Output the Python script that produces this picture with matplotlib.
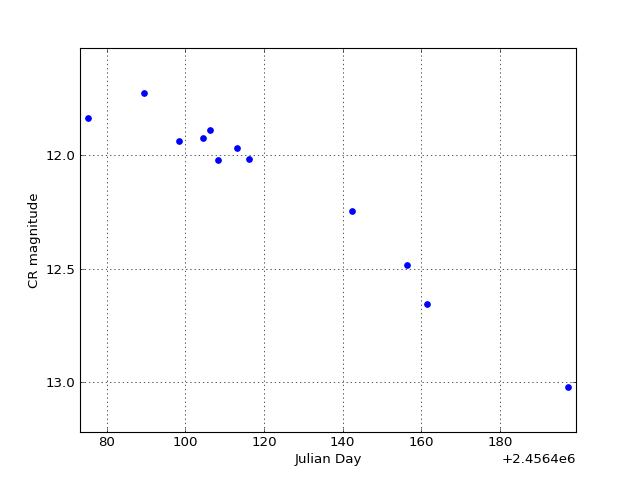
import numpy as np
import matplotlib
matplotlib.use('Agg')
import matplotlib.pyplot as plt
from matplotlib.ticker import ScalarFormatter

plt.rcParams['lines.scale_dashes'] = False

# julian day, offset by 2456400
jd_offset = 2456400
jd = [75.2, 89.4, 98.4, 104.5, 106.4, 108.4, 113.2, 116.3, 142.4, 156.4, 161.4, 197.4]
mag = [11.837, 11.727, 11.938, 11.925, 11.888, 12.022, 11.967, 12.018, 12.244, 12.485, 12.653, 13.019]

x = np.array(jd) + jd_offset
y = np.array(mag)

fig = plt.figure(figsize=(8, 6), dpi=80)
ax = fig.add_subplot(111)
fig.subplots_adjust(left=0.125, right=0.9, bottom=0.1, top=0.9)

ax.plot(x, y, 'o', color='blue', markeredgecolor='blue', markersize=5)
ax.set_xlim(x.min() - 2, x.max() + 2)
ax.set_ylim(y.max() + 0.2, y.min() - 0.2)
ax.set_yticks([12.0, 12.5, 13.0])

fmt = ScalarFormatter()
fmt.set_useOffset(jd_offset)
ax.xaxis.set_major_formatter(fmt)

ax.set_xlabel('Julian Day', fontsize=12, labelpad=3)
ax.set_ylabel('CR magnitude', fontsize=12, labelpad=4)
ax.tick_params(direction='in', labelsize=12, length=4, width=0.5,
               top=True, right=True, pad=4)
ax.grid(True, color='0.35', linestyle=(0, (1.2, 2.6)), linewidth=0.9)
for s in ax.spines.values():
    s.set_linewidth(1.0)
ax.xaxis.get_offset_text().set_fontsize(12)

plt.savefig('out.png', dpi=80)
